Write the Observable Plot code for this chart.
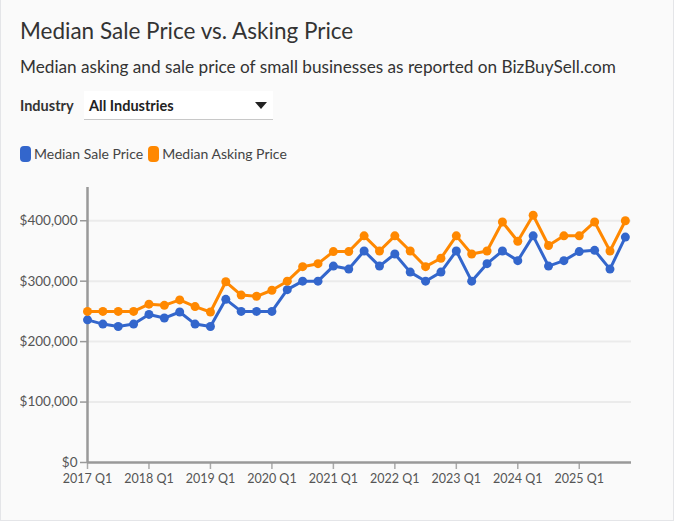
<!DOCTYPE html>
<html>
<head>
<meta charset="utf-8">
<script src="https://cdn.jsdelivr.net/npm/d3@7"></script>
<script src="https://cdn.jsdelivr.net/npm/@observablehq/plot@0.6"></script>
<style>
  html, body { margin: 0; padding: 0; background: #ffffff; }
  body { font-family: Lato, "Noto Sans", sans-serif; color: #333; }
  #card {
    position: relative; width: 674px; height: 521px; box-sizing: border-box;
    background: #fafafa; border: 1px solid #e4e5e8; border-top: none; overflow: hidden;
  }
  #title { position: absolute; left: 19px; top: 17px; font-size: 22.5px; color: #333; white-space: nowrap; }
  #subtitle { position: absolute; left: 19px; top: 56px; font-size: 17.2px; color: #333; white-space: nowrap; }
  #indlabel { position: absolute; left: 19px; top: 97px; font-size: 14.5px; font-weight: bold; color: #333; }
  #select {
    position: absolute; left: 83px; top: 91px; width: 189px; height: 29px; box-sizing: border-box;
    background: #fff; border-bottom: 1px solid #c8c8c8; font-size: 14.5px; font-weight: bold; color: #222;
    padding: 6px 0 0 5px;
  }
  #select .arrow {
    position: absolute; right: 6px; top: 11px; width: 0; height: 0;
    border-left: 6px solid transparent; border-right: 6px solid transparent; border-top: 7px solid #222;
  }
  #legend { position: absolute; left: 19px; top: 145px; font-size: 14px; color: #444; display: flex; }
  #legend .item { display: flex; align-items: center; margin-right: 5px; }
  #legend .sw { width: 11px; height: 16px; border-radius: 4px; margin-right: 3px; }
  #chart { position: absolute; left: 0; top: 175px; }
  #chart svg { background: transparent; overflow: visible; }
  #chart text { font-family: Lato, "Noto Sans", sans-serif; }
</style>
</head>
<body>
<div id="card">
  <div id="title">Median Sale Price vs. Asking Price</div>
  <div id="subtitle">Median asking and sale price of small businesses as reported on BizBuySell.com</div>
  <div id="indlabel">Industry</div>
  <div id="select">All Industries<span class="arrow"></span></div>
  <div id="legend"></div>
  <div id="chart"></div>
</div>
<script>
const quarters = [
  "2017 Q1","2017 Q2","2017 Q3","2017 Q4",
  "2018 Q1","2018 Q2","2018 Q3","2018 Q4",
  "2019 Q1","2019 Q2","2019 Q3","2019 Q4",
  "2020 Q1","2020 Q2","2020 Q3","2020 Q4",
  "2021 Q1","2021 Q2","2021 Q3","2021 Q4",
  "2022 Q1","2022 Q2","2022 Q3","2022 Q4",
  "2023 Q1","2023 Q2","2023 Q3","2023 Q4",
  "2024 Q1","2024 Q2","2024 Q3","2024 Q4",
  "2025 Q1","2025 Q2","2025 Q3","2025 Q4"
];
const salePrice = [
  236000,229000,225000,229000, 245000,239000,249000,229000,
  225000,270000,250000,250000, 250000,286000,300000,300000,
  325000,320000,350000,325000, 345000,315000,300000,315000,
  350000,300000,329000,350000, 334000,375000,325000,334000,
  349000,351000,320000,373000
];
const askingPrice = [
  250000,250000,250000,250000, 262000,260000,269000,258000,
  249000,299000,277000,275000, 285000,300000,324000,329000,
  349000,349000,375000,350000, 375000,350000,324000,338000,
  375000,345000,350000,398000, 366000,409000,359000,375000,
  375000,398000,350000,400000
];
const seriesNames = ["Median Sale Price", "Median Asking Price"];
const seriesColors = ["#3366cc", "#ff8800"];
const yTicks = [0, 100000, 200000, 300000, 400000];
const xTickLabels = ["2017 Q1","2018 Q1","2019 Q1","2020 Q1","2021 Q1","2022 Q1","2023 Q1","2024 Q1","2025 Q1"];

const rows = [];
quarters.forEach((q, i) => {
  rows.push({i, q, series: seriesNames[0], value: salePrice[i]});
  rows.push({i, q, series: seriesNames[1], value: askingPrice[i]});
});
const xTicks = xTickLabels.map(l => quarters.indexOf(l));

// legend
const legend = document.getElementById("legend");
seriesNames.forEach((n, k) => {
  const it = document.createElement("div"); it.className = "item";
  const sw = document.createElement("div"); sw.className = "sw"; sw.style.background = seriesColors[k];
  const t = document.createElement("span"); t.textContent = n;
  it.appendChild(sw); it.appendChild(t); legend.appendChild(it);
});

const fmt = d3.format(",");
const chart = Plot.plot({
  width: 660, height: 330,
  marginLeft: 86, marginRight: 30, marginTop: 12, marginBottom: 43,
  style: {background: "transparent", fontSize: "13px", color: "#555"},
  x: {domain: [0, 35.4], axis: null},
  y: {domain: [0, 455000], axis: null},
  color: {domain: seriesNames, range: seriesColors},
  marks: [
    Plot.ruleY(yTicks.filter(d => d > 0), {stroke: "#ebebeb", strokeWidth: 2}),
    Plot.axisY(yTicks, {label: null, tickSize: 7, tickPadding: 3, tickFormat: d => "$" + fmt(d), stroke: "#999", strokeWidth: 1.5, fill: "#555", fontSize: 13.5}),
    Plot.axisX(xTicks, {label: null, tickSize: 7, tickPadding: 5, tickFormat: i => quarters[i], stroke: "#aaa", strokeWidth: 1.5, fill: "#555", fontSize: 12.5}),
    Plot.ruleY([0], {stroke: "#999", strokeWidth: 2.5}),
    Plot.ruleX([0], {stroke: "#999", strokeWidth: 2.5}),
    Plot.line(rows, {x: "i", y: "value", z: "series", stroke: "series", strokeWidth: 3}),
    Plot.dot(rows, {x: "i", y: "value", fill: "series", r: 4.5})
  ]
});
document.getElementById("chart").appendChild(chart);
</script>
</body>
</html>
